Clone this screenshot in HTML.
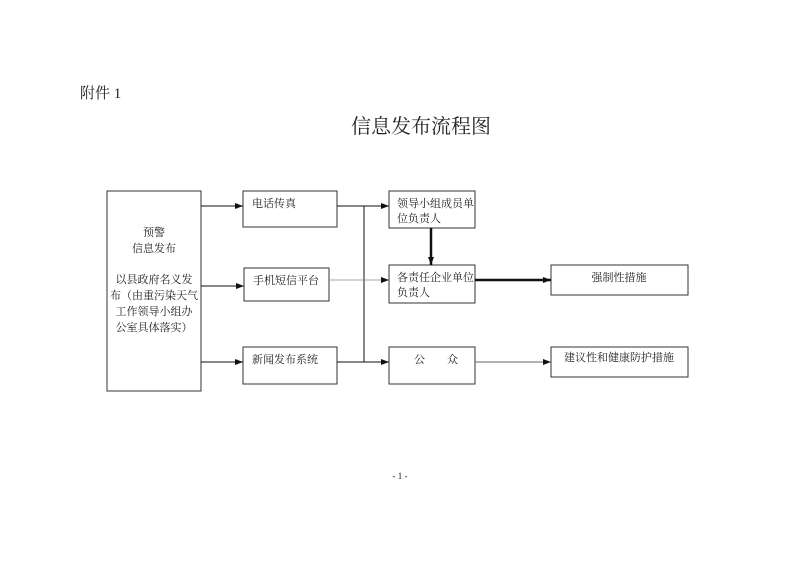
<!DOCTYPE html>
<html><head><meta charset="utf-8"><style>
body{margin:0;background:#fff;}
svg text{font-family:"Liberation Serif","Noto Serif CJK SC",serif;fill:#222;}
</style></head><body>
<svg width="800" height="565" viewBox="0 0 800 565" xmlns="http://www.w3.org/2000/svg">
<defs><marker id="a" markerWidth="8" markerHeight="6" refX="8" refY="3" orient="auto" markerUnits="userSpaceOnUse"><path d="M0,0L8,3L0,6z" fill="#111"/></marker></defs>
<text x="80" y="98" font-size="15">附件 1</text>
<text x="421" y="133" font-size="20" text-anchor="middle">信息发布流程图</text>
<g fill="none" stroke="#333" stroke-width="1">
<rect x="107" y="191" width="94" height="200"/>
<rect x="243" y="191" width="94" height="36"/>
<rect x="244" y="268" width="85" height="33"/>
<rect x="243" y="347" width="94" height="37"/>
<rect x="389" y="191" width="86" height="37"/>
<rect x="389" y="265" width="86" height="38"/>
<rect x="389" y="347" width="86" height="37"/>
<rect x="551" y="265" width="137" height="30"/>
<rect x="551" y="347" width="137" height="30"/>
</g>
<g stroke="#111" stroke-width="1" fill="none">
<line x1="201" y1="206" x2="243" y2="206" marker-end="url(#a)"/>
<line x1="201" y1="286" x2="244" y2="286" marker-end="url(#a)"/>
<line x1="201" y1="362" x2="243" y2="362" marker-end="url(#a)"/>
<line x1="337" y1="206" x2="389" y2="206" marker-end="url(#a)"/>
<line x1="364" y1="206" x2="364" y2="362"/>
<line x1="337" y1="362" x2="389" y2="362" marker-end="url(#a)"/>
<line x1="329" y1="280" x2="389" y2="280" stroke="#888" stroke-width="0.7" marker-end="url(#a)"/>
<line x1="431" y1="228" x2="431" y2="265" stroke-width="2.5" marker-end="url(#a)"/>
<line x1="475" y1="280" x2="551" y2="280" stroke-width="2.5" marker-end="url(#a)"/>
<line x1="475" y1="362" x2="551" y2="362" stroke="#666" marker-end="url(#a)"/>
</g>
<g font-size="11">
<text x="154" y="236" text-anchor="middle">预警</text>
<text x="154" y="252" text-anchor="middle">信息发布</text>
<text x="154" y="283" text-anchor="middle">以县政府名义发</text>
<text x="154" y="299" text-anchor="middle">布（由重污染天气</text>
<text x="154" y="315" text-anchor="middle">工作领导小组办</text>
<text x="154" y="331" text-anchor="middle">公室具体落实）</text>
<text x="252" y="207">电话传真</text>
<text x="253" y="284">手机短信平台</text>
<text x="252" y="363">新闻发布系统</text>
<text x="397" y="207">领导小组成员单</text>
<text x="397" y="222">位负责人</text>
<text x="397" y="281">各责任企业单位</text>
<text x="397" y="296">负责人</text>
<text x="414" y="363">公　　众</text>
<text x="619" y="281" text-anchor="middle">强制性措施</text>
<text x="619" y="361" text-anchor="middle">建议性和健康防护措施</text>
<text x="400" y="479" text-anchor="middle" font-size="9">- 1 -</text>
</g>
</svg>
</body></html>
